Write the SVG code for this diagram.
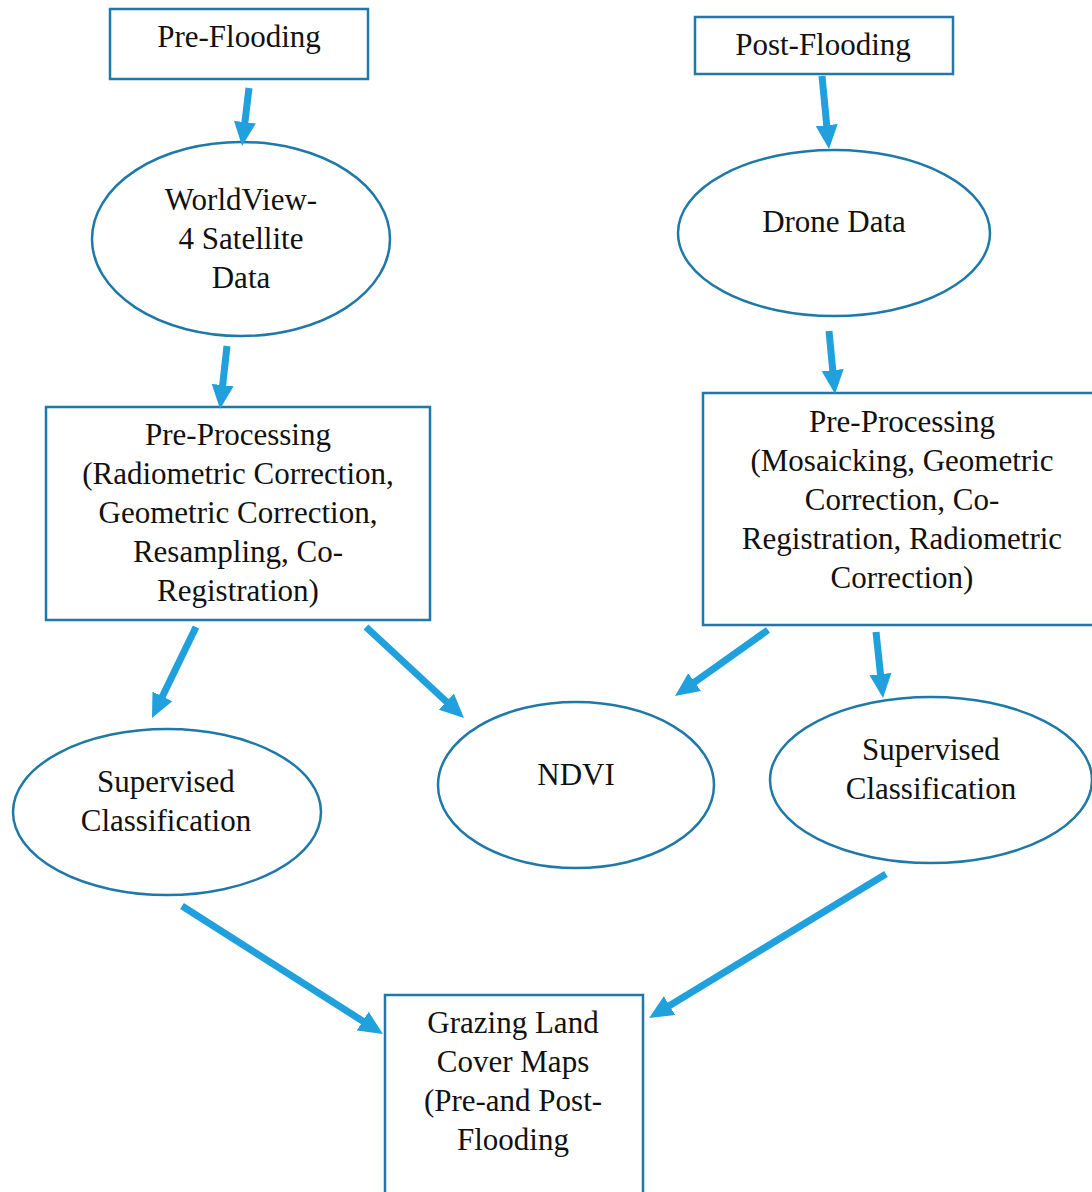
<svg xmlns="http://www.w3.org/2000/svg" width="1092" height="1192" viewBox="0 0 1092 1192">
<defs>
<style>
.n{fill:#fff;stroke:#1e79a8;stroke-width:2.5}
.t{font-family:"Liberation Serif","Times New Roman",serif;font-size:31px;fill:#111;text-anchor:middle}
.c{stroke:#20a0dc;stroke-width:7;fill:none;marker-end:url(#ah)}
</style>
<marker id="ah" markerUnits="userSpaceOnUse" markerWidth="24" markerHeight="24" viewBox="0 0 24 24" refX="6" refY="12" orient="auto">
<path d="M0,1 L24,12 L0,23 Z" fill="#20a0dc"/>
</marker>
</defs>
<rect width="1092" height="1192" fill="#fff"/>
<g id="pre-flooding"><rect class="n" x="110" y="9" width="258" height="70"/><text class="t" x="239" y="47">Pre-Flooding</text></g>
<g id="post-flooding"><rect class="n" x="695" y="17" width="258" height="57"/><text class="t" x="823" y="55">Post-Flooding</text></g>
<g id="worldview"><ellipse class="n" cx="241" cy="239" rx="149" ry="97"/><text class="t" x="241" y="210">WorldView-</text><text class="t" x="241" y="249">4 Satellite</text><text class="t" x="241" y="288">Data</text></g>
<g id="drone"><ellipse class="n" cx="834" cy="233" rx="156" ry="83"/><text class="t" x="834" y="232">Drone Data</text></g>
<g id="preproc-left"><rect class="n" x="46" y="407" width="384" height="213"/>
<text class="t" x="238" y="445">Pre-Processing</text><text class="t" x="238" y="484">(Radiometric Correction,</text><text class="t" x="238" y="523">Geometric Correction,</text><text class="t" x="238" y="562">Resampling, Co-</text><text class="t" x="238" y="601">Registration)</text></g>
<g id="preproc-right"><rect class="n" x="703" y="393" width="400" height="232"/>
<text class="t" x="902" y="432">Pre-Processing</text><text class="t" x="902" y="471">(Mosaicking, Geometric</text><text class="t" x="902" y="510">Correction, Co-</text><text class="t" x="902" y="549">Registration, Radiometric</text><text class="t" x="902" y="588">Correction)</text></g>
<g id="sup-left"><ellipse class="n" cx="167" cy="812" rx="154" ry="83"/><text class="t" x="166" y="792">Supervised</text><text class="t" x="166" y="831">Classification</text></g>
<g id="ndvi"><ellipse class="n" cx="576" cy="785" rx="138" ry="83"/><text class="t" x="576" y="785">NDVI</text></g>
<g id="sup-right"><ellipse class="n" cx="931" cy="780" rx="161" ry="83"/><text class="t" x="931" y="760">Supervised</text><text class="t" x="931" y="799">Classification</text></g>
<g id="maps"><rect class="n" x="385" y="995" width="258" height="220"/>
<text class="t" x="513" y="1033">Grazing Land</text><text class="t" x="513" y="1072">Cover Maps</text><text class="t" x="513" y="1111">(Pre-and Post-</text><text class="t" x="513" y="1150">Flooding</text></g>
<g id="connectors">
<line class="c" x1="249" y1="88" x2="244.2" y2="128.1"/>
<line class="c" x1="822" y1="76" x2="827.3" y2="131.1"/>
<line class="c" x1="227" y1="346" x2="222" y2="391.1"/>
<line class="c" x1="829" y1="331" x2="833.3" y2="376.1"/>
<line class="c" x1="196" y1="627" x2="159.8" y2="701.8"/>
<line class="c" x1="366" y1="627" x2="450.8" y2="705.7"/>
<line class="c" x1="768" y1="630" x2="689.7" y2="685.6"/>
<line class="c" x1="876" y1="632" x2="881.1" y2="680.1"/>
<line class="c" x1="182" y1="906" x2="367.8" y2="1024.3"/>
<line class="c" x1="886" y1="874" x2="664.4" y2="1008.7"/>
</g>
</svg>
